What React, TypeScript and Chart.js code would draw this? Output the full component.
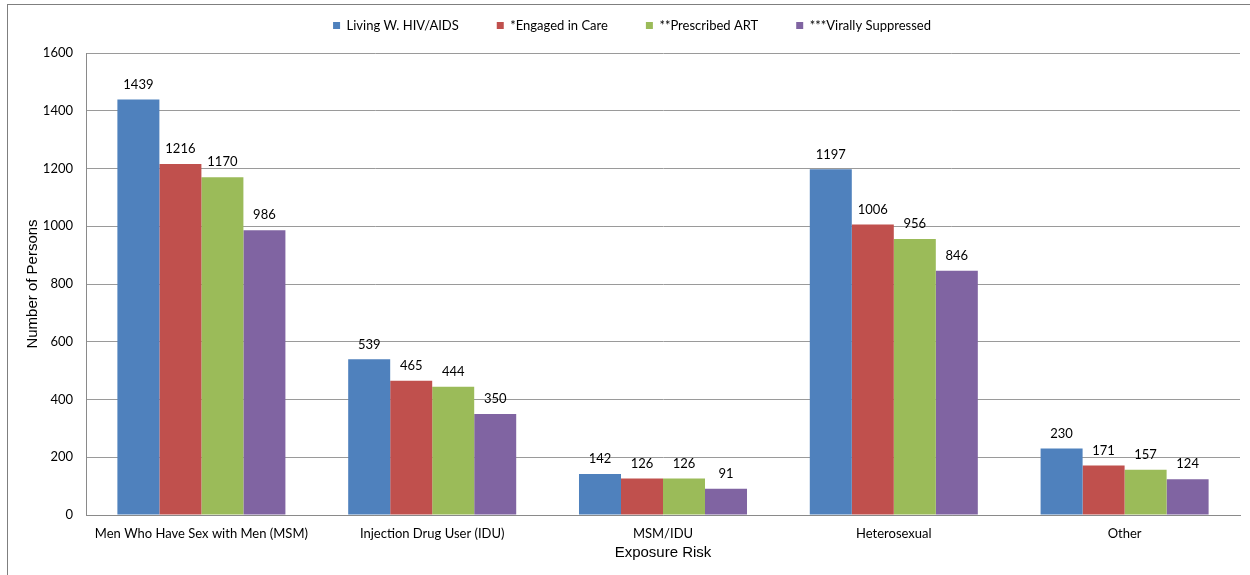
import React, { useEffect, useRef } from "react";
import { Chart, registerables } from "chart.js";

Chart.register(...registerables);

const categories = [
  "Men Who Have Sex with Men (MSM)",
  "Injection Drug User (IDU)",
  "MSM/IDU",
  "Heterosexual",
  "Other",
];
const seriesNames = [
  "Living W. HIV/AIDS",
  "*Engaged in Care",
  "**Prescribed ART",
  "***Virally Suppressed",
];
const livingValues = [1439, 539, 142, 1197, 230];
const engagedValues = [1216, 465, 126, 1006, 171];
const prescribedValues = [1170, 444, 126, 956, 157];
const suppressedValues = [986, 350, 91, 846, 124];
const seriesColors = ["#4F81BD", "#C0504D", "#9BBB59", "#8064A2"];
const yTicks = [0, 200, 400, 600, 800, 1000, 1200, 1400, 1600];

const FONT = "Lato, 'Open Sans', sans-serif";
const TITLE_FONT = "'Liberation Sans', Arial, sans-serif";

const dataLabelPlugin = {
  id: "dataLabels",
  afterDatasetsDraw(chart: any) {
    const ctx = chart.ctx;
    ctx.save();
    ctx.font = `13px ${FONT}`;
    ctx.fillStyle = "#000";
    ctx.textAlign = "center";
    ctx.textBaseline = "middle";
    chart.data.datasets.forEach((ds: any, i: number) => {
      const meta = chart.getDatasetMeta(i);
      meta.data.forEach((el: any, j: number) => {
        ctx.fillText(String(ds.data[j]), el.x, el.y - 15);
      });
    });
    ctx.restore();
  },
};

const legendSpacerPlugin = {
  id: "legendSpacer",
  beforeInit(chart: any) {
    const legend = chart.legend;
    if (!legend) return;
    const orig = legend.fit;
    legend.fit = function () {
      orig.call(this);
      this.height += 11;
    };
  },
};

export default function App() {
  const ref = useRef<HTMLCanvasElement>(null);
  useEffect(() => {
    if (!ref.current) return;
    const all = [livingValues, engagedValues, prescribedValues, suppressedValues];
    const chart = new Chart(ref.current, {
      type: "bar",
      data: {
        labels: categories,
        datasets: all.map((vals, i) => ({
          label: seriesNames[i],
          data: vals,
          backgroundColor: seriesColors[i],
          borderWidth: 0,
          barPercentage: 1,
          categoryPercentage: 0.728,
        })),
      },
      options: {
        responsive: false,
        animation: false,
        layout: { padding: { left: 24, right: 10, top: -19, bottom: 13 } },
        plugins: {
          tooltip: { enabled: false },
          legend: {
            position: "top",
            labels: {
              boxWidth: 7,
              boxHeight: 7,
              padding: 38,
              color: "#000",
              font: { family: FONT, size: 13 },
            },
          },
        },
        scales: {
          x: {
            afterFit: (s: any) => {
              s.height = 47;
            },
            grid: { display: false, drawTicks: false },
            border: { display: true, color: "#8a8a8a", width: 1 },
            ticks: {
              color: "#000",
              font: { family: FONT, size: 13 },
              padding: 11,
              maxRotation: 0,
              autoSkip: false,
            },
            title: {
              display: true,
              text: "Exposure Risk",
              color: "#000",
              font: { family: TITLE_FONT, size: 15 },
              padding: { top: 0, bottom: 0 },
            },
          },
          y: {
            min: 0,
            max: 1600,
            afterBuildTicks: (s: any) => {
              s.ticks = yTicks.map((v) => ({ value: v }));
            },
            afterFit: (s: any) => {
              s.width = 62;
            },
            grid: { color: "#9a9a9a", lineWidth: 1, drawTicks: false },
            border: { display: true, color: "#8a8a8a", width: 1 },
            ticks: {
              color: "#000",
              font: { family: FONT, size: 13 },
              padding: 13,
              callback: (v: any) => String(v),
            },
            title: {
              display: true,
              text: "Number of Persons",
              color: "#000",
              font: { family: TITLE_FONT, size: 15 },
              padding: { top: 0, bottom: 0 },
            },
          },
        },
      },
      plugins: [dataLabelPlugin, legendSpacerPlugin],
    });
    return () => chart.destroy();
  }, []);

  return (
    <div style={{ position: "fixed", left: 0, top: 0, width: 1250, height: 575, background: "#fff", overflow: "hidden" }}>
      <div
        style={{
          position: "absolute",
          left: 7,
          top: 4,
          width: 1300,
          height: 700,
          borderTop: "1px solid #7f7f7f",
          borderLeft: "1px solid #7f7f7f",
        }}
      />
      <canvas ref={ref} width={1250} height={575} style={{ position: "absolute", left: 0, top: 0 }} />
    </div>
  );
}
